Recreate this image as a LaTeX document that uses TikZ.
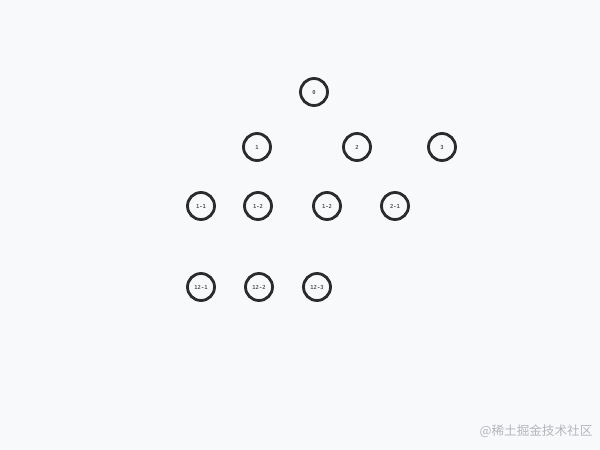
\documentclass[tikz,border=0pt]{standalone}
\usepackage{fontspec}
\newfontfamily\cjk{Noto Sans CJK SC}
\newfontfamily\ringfont{DejaVu Sans Mono}
\usepackage{tikz}
\usetikzlibrary{positioning}
\definecolor{bg}{HTML}{F8F9FA}
\definecolor{ringgray}{HTML}{2B2B2B}
\definecolor{markgray}{HTML}{B4B6BA}

\begin{document}
\begin{tikzpicture}[x=1pt,y=-1pt,
  ring/.style={circle,draw=ringgray,line width=2.8pt,minimum size=27pt,inner sep=0pt,
    font=\ringfont\bfseries\fontsize{5.5}{6}\selectfont,text=ringgray!80}]

%background
\fill[bg](0,0)rectangle(600,450);
\useasboundingbox (0,0)rectangle(600,450);

\node[ring] (n0) at (314,92){0};

\node[ring] (n1) at (257,147){1};
\node[ring] (n2) at (357,147){2};
\node[ring] (n3) at (442,147){3};

\node[ring] (n11) at (201,206){1-1};
\node[ring] (n12) at (258,206){1-2};
\node[ring] (n12b) at (327,206){1-2};
\node[ring] (n21) at (395,206){2-1};

\node[ring] (n121) at (201,287){12-1};
\node[ring] (n122) at (259,287){12-2};
\node[ring] (n123) at (317,287){12-3};

%\node at (536,431){};
\node[text=markgray,font=\cjk\fontsize{12.6}{14}\selectfont] (mark) at (536,431){@稀土掘金技术社区};
    \end{tikzpicture}
\end{document}
